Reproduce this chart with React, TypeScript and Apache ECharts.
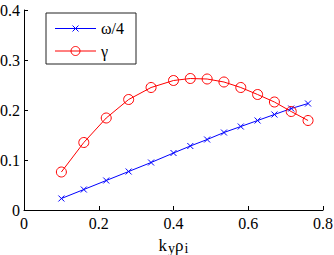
import React, { useEffect, useRef } from "react";
import * as echarts from "echarts";

const kyRho = [0.1, 0.16, 0.22, 0.28, 0.34, 0.4, 0.445, 0.49, 0.535, 0.58, 0.625, 0.67, 0.715, 0.76];
const omegaQuarter = [0.023, 0.041, 0.059, 0.077, 0.095, 0.114, 0.128, 0.141, 0.155, 0.167, 0.179, 0.191, 0.203, 0.213];
const gamma = [0.076, 0.135, 0.184, 0.221, 0.245, 0.259, 0.263, 0.262, 0.256, 0.245, 0.231, 0.216, 0.197, 0.179];
const seriesNames = ["ω/4", "γ"];
const seriesColors = ["#0000ff", "#ff0000"];

const FONT = "Liberation Serif";

export default function App() {
  const ref = useRef<HTMLDivElement>(null);
  useEffect(() => {
    if (!ref.current) return;
    const chart = echarts.init(ref.current, undefined, { renderer: "svg" });
    const axisCommon = {
      axisLine: { show: true, lineStyle: { color: "#000", width: 1 } },
      axisTick: { show: true, inside: true, length: 4, lineStyle: { color: "#000" } },
      splitLine: { show: false },
      axisLabel: { color: "#000", fontFamily: FONT, fontSize: 16 },
    };

    const lx = 46, ly = 13, lw = 90, lh = 51;
    const rowY = [28.5, 51];
    const lineX0 = 55, lineX1 = 96;
    const mx = (lineX0 + lineX1) / 2;
    const legendChildren: any[] = [
      { type: "rect", shape: { x: lx, y: ly, width: lw, height: lh }, style: { fill: "#fff", stroke: "#222", lineWidth: 1 } },
    ];
    seriesNames.forEach((name, i) => {
      const y = rowY[i];
      const c = seriesColors[i];
      legendChildren.push({ type: "line", shape: { x1: lineX0, y1: y, x2: lineX1, y2: y }, style: { stroke: c, lineWidth: 1 } });
      if (i === 0) {
        legendChildren.push({ type: "line", shape: { x1: mx - 3, y1: y - 3, x2: mx + 3, y2: y + 3 }, style: { stroke: c, lineWidth: 1 } });
        legendChildren.push({ type: "line", shape: { x1: mx - 3, y1: y + 3, x2: mx + 3, y2: y - 3 }, style: { stroke: c, lineWidth: 1 } });
      } else {
        legendChildren.push({ type: "circle", shape: { cx: mx, cy: y, r: 4.5 }, style: { fill: "none", stroke: c, lineWidth: 1 } });
      }
      legendChildren.push({
        type: "text",
        x: 101,
        y: y,
        style: { text: name, fill: "#000", fontFamily: FONT, fontSize: 16, verticalAlign: "middle" },
      });
    });

    chart.setOption({
      animation: false,
      backgroundColor: "#fff",
      grid: { left: 24, right: 11, top: 10, bottom: 45, containLabel: false, outerBoundsMode: "none" },
      xAxis: {
        type: "value",
        min: 0,
        max: 0.8,
        interval: 0.2,
        ...axisCommon,
        axisLabel: {
          ...axisCommon.axisLabel,
          margin: 5,
          formatter: (v: number) => (v === 0 ? "0" : v.toFixed(1)),
        },
        name: "{n|k}{s|y}{n|ρ}{s|i}",
        nameLocation: "middle",
        nameGap: 16,
        nameTextStyle: {
          rich: {
            n: { fontFamily: FONT, fontSize: 17, color: "#000", lineHeight: 16 },
            s: { fontFamily: FONT, fontSize: 14, color: "#000", padding: [6, 0, 0, 1], lineHeight: 14 },
          },
        },
      },
      yAxis: {
        type: "value",
        min: 0,
        max: 0.4,
        interval: 0.1,
        ...axisCommon,
        axisLabel: {
          ...axisCommon.axisLabel,
          margin: 4,
          formatter: (v: number) => (v === 0 ? "0" : v.toFixed(1)),
        },
      },
      series: [
        {
          name: seriesNames[0],
          type: "line",
          data: kyRho.map((x, i) => [x, omegaQuarter[i]]),
          symbol: "path://M0,0L10,10M10,0L0,10",
          symbolSize: 6,
          showAllSymbol: true,
          lineStyle: { color: seriesColors[0], width: 1 },
          itemStyle: { color: seriesColors[0], borderColor: seriesColors[0], borderWidth: 1 },
        },
        {
          name: seriesNames[1],
          type: "line",
          data: kyRho.map((x, i) => [x, gamma[i]]),
          symbol: "circle",
          symbolSize: 10,
          showAllSymbol: true,
          lineStyle: { color: seriesColors[1], width: 1 },
          itemStyle: { color: "rgba(0,0,0,0)", borderColor: seriesColors[1], borderWidth: 1 },
        },
      ],
      graphic: [{ type: "group", z: 100, children: legendChildren }],
    });
    return () => chart.dispose();
  }, []);
  return (
    <div
      ref={ref}
      style={{ position: "fixed", left: 0, top: 0, width: 334, height: 255 }}
    />
  );
}
